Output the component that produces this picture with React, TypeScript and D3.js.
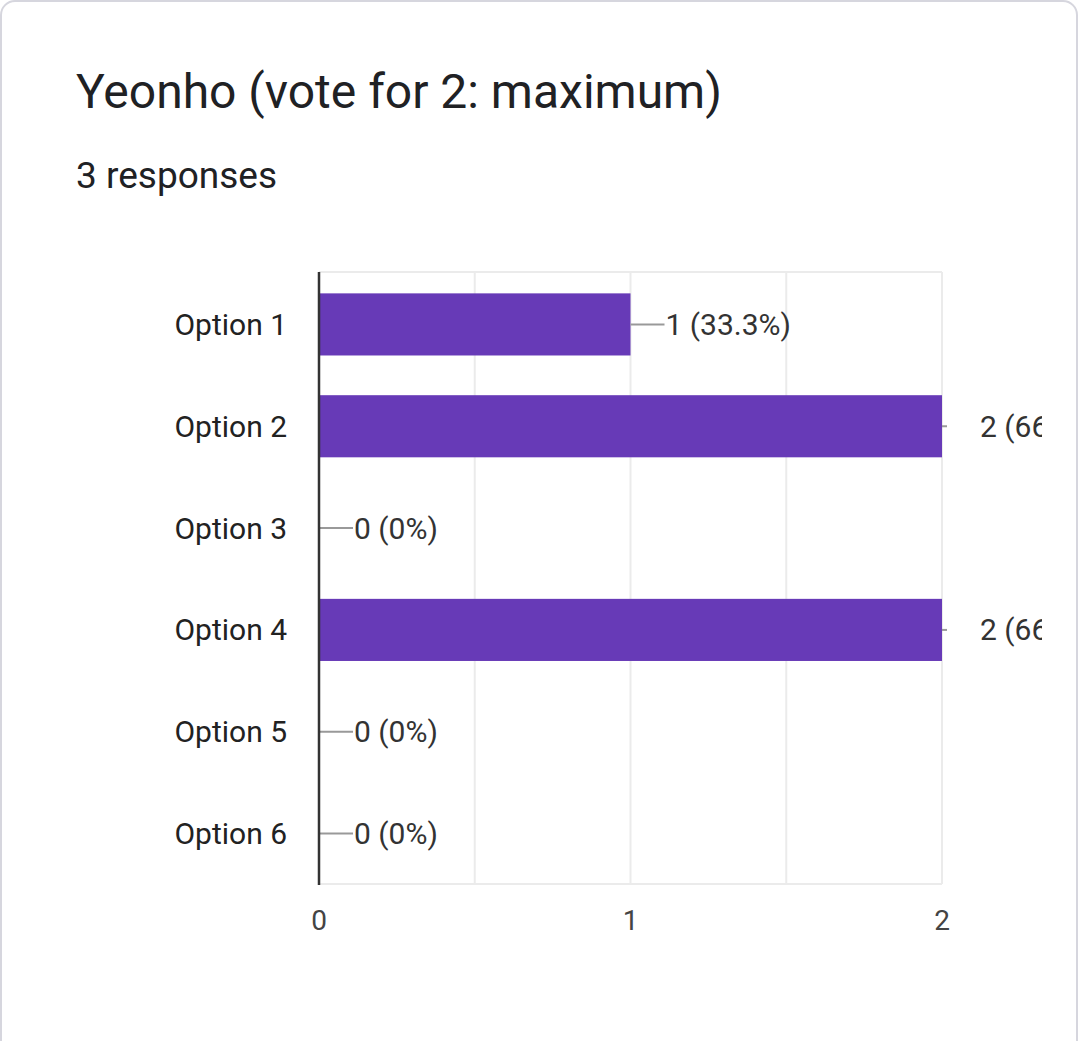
import React from "react";
import * as d3 from "d3";

const categories = ["Option 1", "Option 2", "Option 3", "Option 4", "Option 5", "Option 6"];
const counts = [1, 2, 0, 2, 0, 0];
const labels = ["1 (33.3%)", "2 (66.7%)", "0 (0%)", "2 (66.7%)", "0 (0%)", "0 (0%)"];
const xTicks = [0, 1, 2];
const gridValues = [0.5, 1, 1.5, 2];
const title = "Yeonho (vote for 2: maximum)";
const subtitle = "3 responses";

const W = 1080;
const H = 1041;
const FONT = "Roboto, 'Noto Sans', sans-serif";

export default function App() {
  const x = d3.scaleLinear().domain([0, 2]).range([319, 942]);
  const y = d3.scaleBand<string>().domain(categories).range([273, 885]).paddingInner(0.39).paddingOuter(0.2);
  const plotTop = 272;
  const plotBottom = 884;
  const clipRight = 1042;

  return (
    <svg width={W} height={H} style={{ position: "absolute", left: 0, top: 0, background: "#fff" }} fontFamily={FONT}>
      <defs>
        <clipPath id="chartClip">
          <rect x={0} y={0} width={clipRight} height={H} />
        </clipPath>
      </defs>
      <rect x={1} y={1} width={1076} height={1100} rx={14} ry={14} fill="#fff" stroke="#d6d6de" strokeWidth={2} />
      <text x={76} y={108} fontSize={48} fill="#202124">{title}</text>
      <text x={76} y={188} fontSize={37} fill="#202124">{subtitle}</text>

      {/* grid */}
      <line x1={x(0)} x2={x(2)} y1={plotTop} y2={plotTop} stroke="#ebebeb" strokeWidth={2} />
      <line x1={x(0)} x2={x(2)} y1={plotBottom} y2={plotBottom} stroke="#ebebeb" strokeWidth={2} />
      {gridValues.map((v) => (
        <line key={v} x1={x(v)} x2={x(v)} y1={plotTop} y2={plotBottom} stroke="#ebebeb" strokeWidth={2} />
      ))}

      {/* bars */}
      {categories.map((c, i) => (
        <rect key={c} x={x(0)} y={y(c)} width={x(counts[i]) - x(0)} height={y.bandwidth()} fill="#673ab7" />
      ))}

      {/* annotations */}
      <g clipPath="url(#chartClip)">
        {categories.map((c, i) => {
          const cy = (y(c) as number) + y.bandwidth() / 2;
          const atMax = counts[i] >= 2;
          const x0 = x(counts[i]);
          const stemEnd = atMax ? x0 + 5 : x0 + 34;
          const tx = atMax ? 980 : x0 + 35;
          return (
            <g key={c}>
              <line x1={x0} x2={stemEnd} y1={cy} y2={cy} stroke="#999" strokeWidth={2} />
              <text x={tx} y={cy} dy="0.35em" fontSize={30} fill="#333">{labels[i]}</text>
            </g>
          );
        })}
      </g>

      {/* axis */}
      <line x1={x(0)} x2={x(0)} y1={plotTop} y2={plotBottom + 1} stroke="#333" strokeWidth={2.5} />

      {/* category labels */}
      {categories.map((c) => (
        <text key={c} x={287} y={(y(c) as number) + y.bandwidth() / 2} dy="0.35em" textAnchor="end" fontSize={30} fill="#222">{c}</text>
      ))}

      {/* x tick labels */}
      {xTicks.map((t) => (
        <text key={t} x={x(t)} y={920} dy="0.35em" textAnchor="middle" fontSize={28} fill="#444">{t}</text>
      ))}
    </svg>
  );
}
